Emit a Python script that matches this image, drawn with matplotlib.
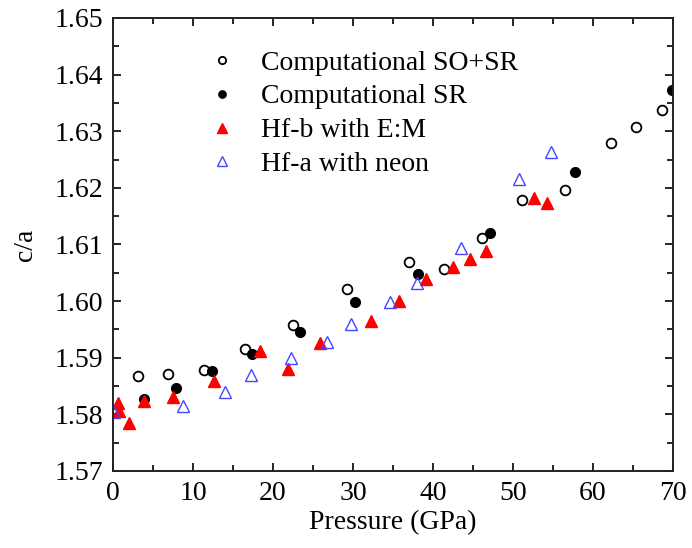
import numpy as np
import matplotlib
matplotlib.use("Agg")
import matplotlib.pyplot as plt
from matplotlib.ticker import MultipleLocator

plt.rcParams['font.family'] = ['Liberation Serif', 'DejaVu Serif']

# Computational SO+SR (open circles)
p_sosr = [3.1, 6.9, 11.4, 16.5, 22.5, 29.25, 37.0, 41.4, 46.1, 51.1, 56.5, 62.3, 65.4, 68.6]
ca_sosr = [1.5868, 1.5872, 1.5878, 1.5916, 1.5958, 1.6022, 1.6069, 1.6056, 1.6111, 1.6178,
           1.6196, 1.6279, 1.6307, 1.6338]

# Computational SR (filled circles)
p_sr = [3.9, 7.9, 12.4, 17.4, 23.4, 30.25, 38.1, 47.1, 57.75, 69.9]
ca_sr = [1.5827, 1.5847, 1.5877, 1.5907, 1.5945, 1.5999, 1.6048, 1.6121, 1.6228, 1.6373]

# Hf-b with E:M (red filled triangles)
p_hfb = [0.6, 0.7, 2.0, 3.9, 7.5, 12.6, 18.4, 21.9, 25.9, 32.25, 35.7, 39.1, 42.5, 44.6,
         46.6, 52.6, 54.2]
ca_hfb = [1.5820, 1.5806, 1.5784, 1.5824, 1.5831, 1.5859, 1.5912, 1.5881, 1.5926, 1.5965,
          1.6001, 1.6039, 1.6061, 1.6074, 1.6089, 1.6183, 1.6173]

# Hf-a with neon (blue open triangles)
p_hfa = [0.15, 8.8, 14.0, 17.2, 22.3, 26.7, 29.8, 34.6, 38.0, 43.5, 50.75, 54.8]
ca_hfa = [1.5805, 1.5814, 1.5840, 1.5870, 1.5899, 1.5927, 1.5960, 1.5998, 1.6032, 1.6093,
          1.6215, 1.6264]

fig = plt.figure(figsize=(6.92, 5.48), dpi=100)
ax = fig.add_axes([113 / 692, 1 - 471 / 548, 560 / 692, 453 / 548])

ax.plot(p_sosr, ca_sosr, 'o', ms=7, mfc='none', mec='black', mew=1.3,
        label='Computational SO+SR')
ax.plot(p_sr, ca_sr, 'o', ms=7, mfc='black', mec='black', label='Computational SR')
ax.plot(p_hfb, ca_hfb, '^', ms=9, mfc='red', mec='red', label='Hf-b with E:M')
ax.plot(p_hfa, ca_hfa, '^', ms=9, mfc='none', mec='#4646ff', mew=1.0,
        label='Hf-a with neon')

ax.set_xlim(0, 70)
ax.set_ylim(1.57, 1.65)
ax.xaxis.set_major_locator(MultipleLocator(10))
ax.xaxis.set_minor_locator(MultipleLocator(5))
ax.yaxis.set_major_locator(MultipleLocator(0.01))
ax.yaxis.set_minor_locator(MultipleLocator(0.005))
ax.yaxis.set_major_formatter(matplotlib.ticker.FormatStrFormatter('%.2f'))
ax.tick_params(which='both', direction='in', top=True, right=True, labelsize=20, width=1.2)
ax.tick_params(which='major', length=6, pad=7)
ax.tick_params(which='minor', length=4)
for s in ax.spines.values():
    s.set_linewidth(1.4)
    s.set_color('#222222')

ax.set_xlabel('Pressure (GPa)', fontsize=20, labelpad=3)
ax.set_ylabel('c/a', fontsize=20, labelpad=12)

ax.legend(loc='upper left', bbox_to_anchor=(0.125, 0.984), frameon=False, fontsize=20,
          markerscale=0.75, handlelength=1.0, handletextpad=0.9, labelspacing=0.3)

fig.savefig('out.png', dpi=100)
